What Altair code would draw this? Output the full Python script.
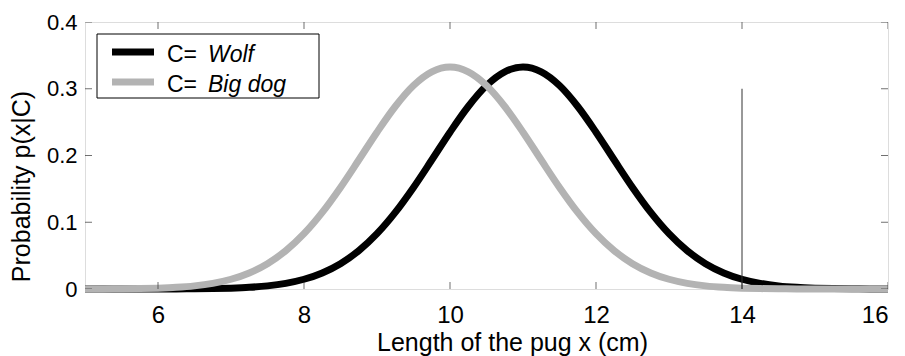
import altair as alt
import pandas as pd

# x positions (cm)
xs = [5.0, 5.25, 5.5, 5.75, 6.0, 6.25, 6.5, 6.75, 7.0, 7.25, 7.5, 7.75,
      8.0, 8.25, 8.5, 8.75, 9.0, 9.25, 9.5, 9.75, 10.0, 10.25, 10.5, 10.75,
      11.0, 11.25, 11.5, 11.75, 12.0, 12.25, 12.5, 12.75, 13.0, 13.25, 13.5, 13.75,
      14.0, 14.25, 14.5, 14.75, 15.0, 15.25, 15.5, 15.75, 16.0]

wolf = [0.0, 0.0, 0.0, 0.0, 0.0001, 0.0001, 0.0003, 0.0006, 0.0013, 0.0025, 0.0047, 0.0085,
        0.0146, 0.0241, 0.0380, 0.0573, 0.0829, 0.1148, 0.1522, 0.1932, 0.2349, 0.2734, 0.3048, 0.3253,
        0.3324, 0.3253, 0.3048, 0.2734, 0.2349, 0.1932, 0.1522, 0.1148, 0.0829, 0.0573, 0.0380, 0.0241,
        0.0146, 0.0085, 0.0047, 0.0025, 0.0013, 0.0006, 0.0003, 0.0001, 0.0001]

bigdog = [0.0001, 0.0001, 0.0003, 0.0006, 0.0013, 0.0025, 0.0047, 0.0085, 0.0146, 0.0241, 0.0380, 0.0573,
          0.0829, 0.1148, 0.1522, 0.1932, 0.2349, 0.2734, 0.3048, 0.3253, 0.3324, 0.3253, 0.3048, 0.2734,
          0.2349, 0.1932, 0.1522, 0.1148, 0.0829, 0.0573, 0.0380, 0.0241, 0.0146, 0.0085, 0.0047, 0.0025,
          0.0013, 0.0006, 0.0003, 0.0001, 0.0001, 0.0, 0.0, 0.0, 0.0]

x_ticks = [6, 8, 10, 12, 14, 16]
y_ticks = [0, 0.1, 0.2, 0.3, 0.4]
threshold_x = 14
threshold_top = 0.3

FONT = "Liberation Sans"

xscale = alt.Scale(domain=[5, 16], nice=False, zero=False)
yscale = alt.Scale(domain=[0, 0.4], nice=False)

xaxis = alt.Axis(values=x_ticks, tickSize=0, domain=False, grid=False,
                 labelFont=FONT, labelFontSize=24, labelColor="black", labelPadding=14,
                 title="Length of the pug x (cm)", titleFont=FONT, titleFontSize=25,
                 titleFontWeight="normal", titleColor="black", titleX=427, titleY=61,
                 titleBaseline="alphabetic", titleAlign="center")
yaxis = alt.Axis(values=y_ticks, tickSize=0, domain=False, grid=False, format="~g",
                 labelFont=FONT, labelFontSize=22, labelColor="black", labelPadding=8,
                 title="Probability p(x|C)", titleFont=FONT, titleFontSize=25,
                 titleFontWeight="normal", titleColor="black", titleX=-56, titleY=164,
                 titleBaseline="alphabetic", titleAlign="center", titleAngle=270)

df_w = pd.DataFrame({"x": xs, "p": wolf})
df_d = pd.DataFrame({"x": xs, "p": bigdog})

X = alt.X("x:Q", scale=xscale, axis=xaxis)
Y = alt.Y("p:Q", scale=yscale, axis=yaxis)

line_w = alt.Chart(df_w).mark_line(color="black", strokeWidth=7, interpolate="monotone").encode(x=X, y=Y)
line_d = alt.Chart(df_d).mark_line(color="#b3b3b3", strokeWidth=7, interpolate="monotone").encode(x=X, y=Y)

thr = alt.Chart(pd.DataFrame({"x": [threshold_x], "p": [0.0], "p2": [threshold_top]})).mark_rule(
    color="#333333", strokeWidth=1).encode(x=X, y=Y, y2="p2:Q")

xt_df = pd.DataFrame({"x": x_ticks})
yt_df = pd.DataFrame({"p": y_ticks})
tick_style = dict(color="#333333", thickness=1, size=14, clip=True)
xt_bot = alt.Chart(xt_df).mark_tick(orient="vertical", **tick_style).encode(
    x=X, y=alt.Y(datum=0, scale=yscale, axis=yaxis))
xt_top = alt.Chart(xt_df).mark_tick(orient="vertical", **tick_style).encode(
    x=X, y=alt.Y(datum=0.4, scale=yscale, axis=yaxis))
yt_left = alt.Chart(yt_df).mark_tick(orient="horizontal", **tick_style).encode(
    y=Y, x=alt.X(datum=5, scale=xscale, axis=xaxis))
yt_right = alt.Chart(yt_df).mark_tick(orient="horizontal", **tick_style).encode(
    y=Y, x=alt.X(datum=16, scale=xscale, axis=xaxis))

# manual legend (C= normal, name italic)
leg_names = ["Wolf", "Big dog"]
leg_colors = ["black", "#b3b3b3"]
one = pd.DataFrame({"a": [0]})
legend_box = alt.Chart(one).mark_rect(fill="white", stroke="black", strokeWidth=1).encode(
    x=alt.value(12), x2=alt.value(234), y=alt.value(12), y2=alt.value(76))
legend_layers = [legend_box]
for i, (nm, col) in enumerate(zip(leg_names, leg_colors)):
    ly = 30 + 30 * i
    legend_layers.append(alt.Chart(one).mark_rule(color=col, strokeWidth=7).encode(
        x=alt.value(27), x2=alt.value(69), y=alt.value(ly)))
    legend_layers.append(alt.Chart(one).mark_text(text="C=", font=FONT, fontSize=23, align="left",
        baseline="alphabetic", color="black").encode(x=alt.value(82), y=alt.value(ly + 9.5)))
    legend_layers.append(alt.Chart(one).mark_text(text=nm, font=FONT, fontSize=23, fontStyle="italic",
        align="left", baseline="alphabetic", color="black").encode(x=alt.value(123), y=alt.value(ly + 9.5)))

chart = alt.layer(line_w, line_d, thr, xt_bot, xt_top, yt_left, yt_right, *legend_layers).properties(
    width=803, height=267,
    autosize=alt.AutoSizeParams(type="none"),
    padding={"left": 77, "top": 14, "right": 9, "bottom": 67},
).configure_view(stroke="#1a1a1a", strokeWidth=1.8).configure(background="white")

chart.save("out.html", embed_options={"renderer": "svg", "actions": False})
